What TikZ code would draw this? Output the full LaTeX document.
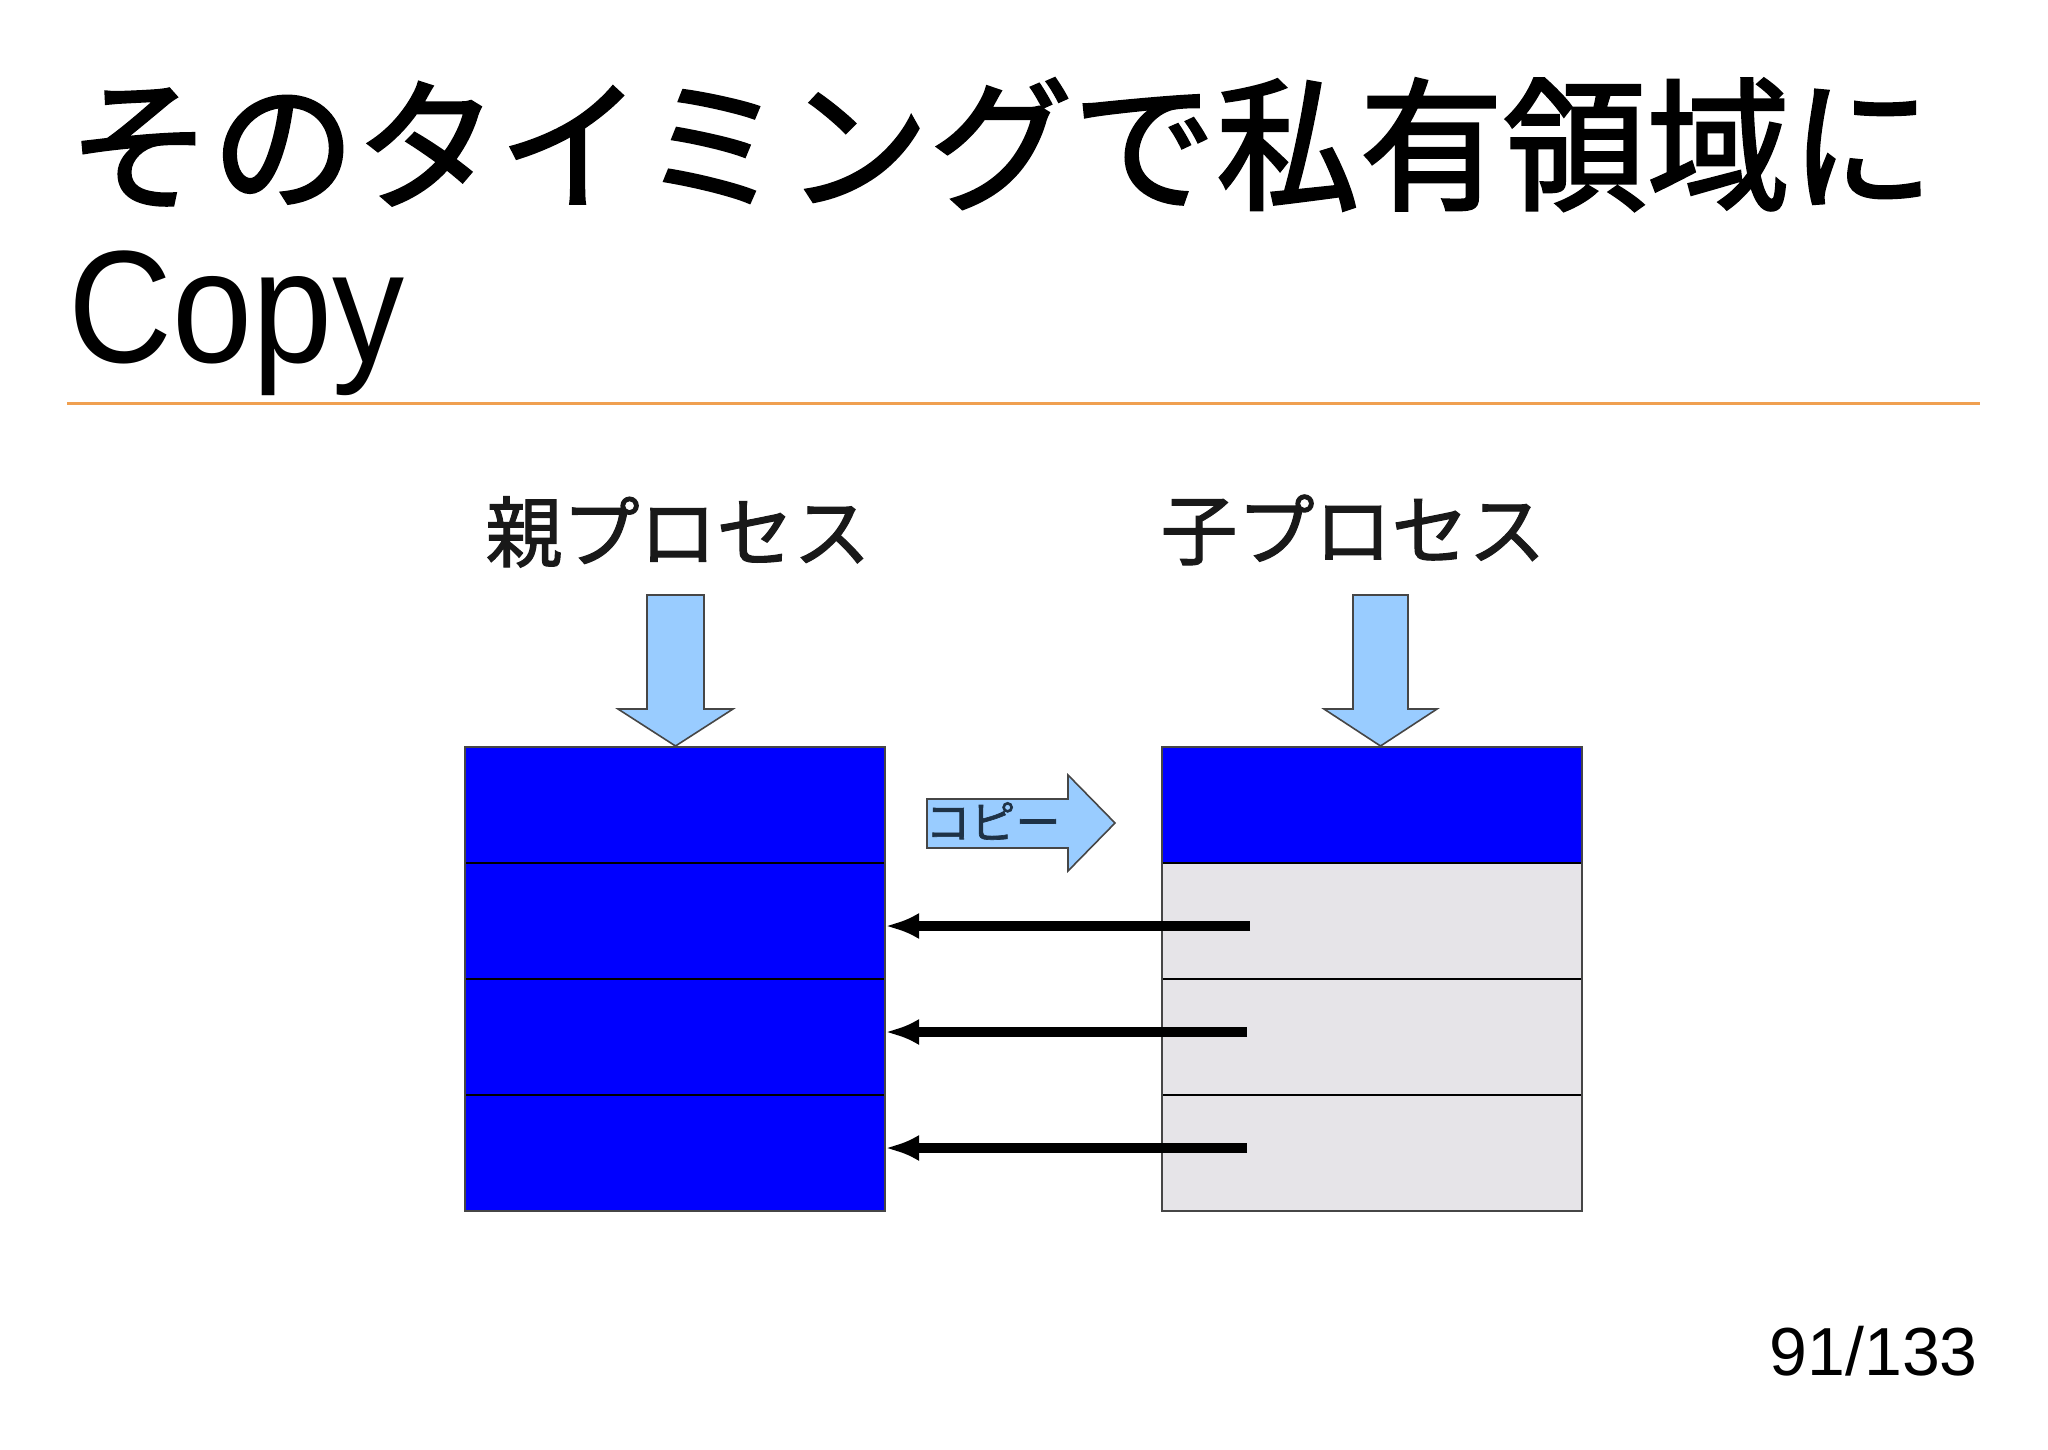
\documentclass[tikz,border=0pt]{standalone}
\usepackage{fontspec}
\newfontfamily\jp{Noto Sans CJK JP}
\newfontfamily\jpt[FakeBold=2]{Noto Sans CJK JP}
\newfontfamily\jpl[FakeBold=1.5]{Noto Sans CJK JP}
\newfontfamily\lib{Liberation Sans}
\usetikzlibrary{arrows.meta}
\definecolor{pblue}{RGB}{0,0,255}
\definecolor{cgray}{RGB}{230,228,232}
\definecolor{abl}{RGB}{153,204,255}
\definecolor{orng}{RGB}{240,160,80}
\definecolor{bord}{RGB}{70,70,70}
\definecolor{txtc}{RGB}{25,25,25}
\begin{document}
\begin{tikzpicture}[x=1pt,y=-1pt,
  cell/.style={draw=black, line width=1.5pt, minimum width=420pt, minimum height=116pt, inner sep=0pt, outer sep=0pt, anchor=north west},
  pcell/.style={cell, fill=pblue},
  ccell/.style={cell, fill=cgray},
  outline/.style={draw=bord, line width=2.2pt},
  bigarrow/.style={draw=bord, line width=1.6pt, fill=abl, line join=miter},
  conn/.style={line width=10pt, -{Latex[length=34pt,width=26pt]}, black},
  lbl/.style={font=\jpl\fontsize{77pt}{80pt}\selectfont, text=txtc, inner sep=0pt},
  ttl/.style={inner sep=0pt, anchor=base west, text=black}
]
\useasboundingbox (0,0) rectangle (2048,1450);
\fill[white] (0,0) rectangle (2048,1450);

% title
\node[ttl, font=\jpt\fontsize{143.5pt}{150pt}\selectfont] (t1) at (68,199) {そのタイミングで私有領域に};
\node[ttl, font=\lib\fontsize{160pt}{160pt}\selectfont] (t2) at (68,362) {\scalebox{0.9}[1]{Copy}};
\draw[orng, line width=3pt] (67,403) coordinate (rl) -- (1980,403) coordinate (rr);

% labels
\node[lbl] (plbl) at (678,532) {親プロセス};
\node[lbl] (clbl) at (1353,530) {子プロセス};

% parent process memory
\node[pcell] (p1) at (465,747) {};
\node[pcell] (p2) at (465,863) {};
\node[pcell] (p3) at (465,979) {};
\node[pcell] (p4) at (465,1095) {};
\draw[outline] (p1.north west) rectangle (p4.south east);

% child process memory
\node[pcell] (c1) at (1162,747) {};
\node[ccell] (c2) at (1162,863) {};
\node[ccell] (c3) at (1162,979) {};
\node[ccell] (c4) at (1162,1095) {};
\draw[outline] (c1.north west) rectangle (c4.south east);

% down arrows
\draw[bigarrow] (647,595) -- (704,595) -- (704,709) -- (733,709) -- (675.5,746) -- (618,709) -- (647,709) -- cycle;
\draw[bigarrow] (1353,595) -- (1408,595) -- (1408,709) -- (1437,709) -- (1380.5,746) -- (1324,709) -- (1353,709) -- cycle;

% copy arrow
\draw[bigarrow] (927,799) -- (1068,799) -- (1068,775) -- (1115,823) -- (1068,871) -- (1068,848) -- (927,848) -- cycle;
\node[font=\jpl\fontsize{45pt}{48pt}\selectfont, text={rgb,255:red,30;green,50;blue,70}, inner sep=0pt] (cp) at (993,821) {コピー};

% references from child to parent
\coordinate (s2) at (1250,926);
\coordinate (s3) at (1247,1032);
\coordinate (s4) at (1247,1148);
\draw[conn] (s2) -- (s2 -| p2.east);
\draw[conn] (s3) -- (s3 -| p3.east);
\draw[conn] (s4) -- (s4 -| p4.east);

% page number
\node[inner sep=0pt, anchor=base east, font=\lib\fontsize{68pt}{72pt}\selectfont] (pg) at (1978,1375) {91/133};
\end{tikzpicture}
\end{document}
